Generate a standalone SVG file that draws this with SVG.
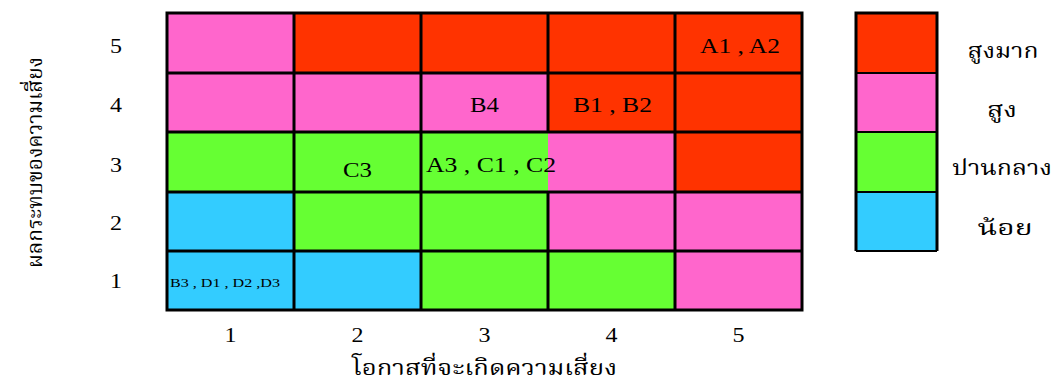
<svg xmlns="http://www.w3.org/2000/svg" width="1055" height="389" viewBox="0 0 1055 389">
<style>
.r{fill:#FF3300}.p{fill:#FF66CC}.g{fill:#66FF33}.c{fill:#33CCFF}
.t{font-family:"Liberation Serif",serif;fill:#000}
.th{font-family:"Noto Serif Thai","Noto Sans Thai","Loma","Garuda","Liberation Serif",serif;fill:#000;font-weight:normal}
.ln{stroke:#000;stroke-width:3;fill:none}
.ln2{stroke:#000;stroke-width:2;fill:none}
</style>
<rect width="1055" height="389" fill="#fff"/>
<g id="matrix">
<g id="cell-5-1"><rect class="p" x="167" y="13" width="127" height="60"/></g>
<g id="cell-5-2"><rect class="r" x="294" y="13" width="127" height="60"/></g>
<g id="cell-5-3"><rect class="r" x="421" y="13" width="127" height="60"/></g>
<g id="cell-5-4"><rect class="r" x="548" y="13" width="127" height="60"/></g>
<g id="cell-5-5"><rect class="r" x="675" y="13" width="127" height="60"/><text class="t" x="740" y="53" font-size="21" text-anchor="middle" textLength="80" lengthAdjust="spacingAndGlyphs">A1 , A2</text></g>
<g id="cell-4-1"><rect class="p" x="167" y="73" width="127" height="59"/></g>
<g id="cell-4-2"><rect class="p" x="294" y="73" width="127" height="59"/></g>
<g id="cell-4-3"><rect class="p" x="421" y="73" width="127" height="59"/><text class="t" x="484.5" y="112" font-size="21" text-anchor="middle" textLength="29" lengthAdjust="spacingAndGlyphs">B4</text></g>
<g id="cell-4-4"><rect class="r" x="548" y="73" width="127" height="59"/><text class="t" x="612.5" y="112" font-size="21" text-anchor="middle" textLength="79" lengthAdjust="spacingAndGlyphs">B1 , B2</text></g>
<g id="cell-4-5"><rect class="r" x="675" y="73" width="127" height="59"/></g>
<g id="cell-3-1"><rect class="g" x="167" y="132" width="127" height="60"/></g>
<g id="cell-3-2"><rect class="g" x="294" y="132" width="127" height="60"/><text class="t" x="357.5" y="177" font-size="21" text-anchor="middle" textLength="29" lengthAdjust="spacingAndGlyphs">C3</text></g>
<g id="cell-3-3"><rect class="g" x="421" y="132" width="127" height="60"/></g>
<g id="cell-3-4"><rect class="p" x="548" y="132" width="127" height="60"/></g>
<g id="cell-3-5"><rect class="r" x="675" y="132" width="127" height="60"/></g>
<g id="cell-2-1"><rect class="c" x="167" y="192" width="127" height="59"/></g>
<g id="cell-2-2"><rect class="g" x="294" y="192" width="127" height="59"/></g>
<g id="cell-2-3"><rect class="g" x="421" y="192" width="127" height="59"/></g>
<g id="cell-2-4"><rect class="p" x="548" y="192" width="127" height="59"/></g>
<g id="cell-2-5"><rect class="p" x="675" y="192" width="127" height="59"/></g>
<g id="cell-1-1"><rect class="c" x="167" y="251" width="127" height="59"/><text class="t" x="170" y="287" font-size="13.5" textLength="110" lengthAdjust="spacingAndGlyphs">B3 , D1 , D2 ,D3</text></g>
<g id="cell-1-2"><rect class="c" x="294" y="251" width="127" height="59"/></g>
<g id="cell-1-3"><rect class="g" x="421" y="251" width="127" height="59"/></g>
<g id="cell-1-4"><rect class="g" x="548" y="251" width="127" height="59"/></g>
<g id="cell-1-5"><rect class="p" x="675" y="251" width="127" height="59"/></g>
<g id="gridlines">
<rect class="ln" x="167" y="13" width="635" height="297"/>
<path class="ln" d="M167 73H802M167 132H802M167 192H802M167 251H802M294 13V310M421 13V310M675 13V310M548 13V132M548 192V310"/>
</g>
<text class="t" x="426" y="172" font-size="21" textLength="130" lengthAdjust="spacingAndGlyphs">A3 , C1 , C2</text>
</g>
<g id="y-axis">
<text class="t" x="116" y="53" font-size="20" text-anchor="middle" textLength="12" lengthAdjust="spacingAndGlyphs">5</text>
<text class="t" x="116" y="112" font-size="20" text-anchor="middle" textLength="12" lengthAdjust="spacingAndGlyphs">4</text>
<text class="t" x="116" y="172" font-size="20" text-anchor="middle" textLength="12" lengthAdjust="spacingAndGlyphs">3</text>
<text class="t" x="116" y="230" font-size="20" text-anchor="middle" textLength="12" lengthAdjust="spacingAndGlyphs">2</text>
<text class="t" x="116" y="288" font-size="20" text-anchor="middle" textLength="12" lengthAdjust="spacingAndGlyphs">1</text>
<text class="th" transform="translate(42,162.5) rotate(-90)" font-size="21" text-anchor="middle" textLength="211" lengthAdjust="spacingAndGlyphs">ผลกระทบของความเสี่ยง</text>
</g>
<g id="x-axis">
<text class="t" x="230.5" y="342" font-size="20" text-anchor="middle" textLength="12" lengthAdjust="spacingAndGlyphs">1</text>
<text class="t" x="357.5" y="342" font-size="20" text-anchor="middle" textLength="12" lengthAdjust="spacingAndGlyphs">2</text>
<text class="t" x="484.5" y="342" font-size="20" text-anchor="middle" textLength="12" lengthAdjust="spacingAndGlyphs">3</text>
<text class="t" x="611.5" y="342" font-size="20" text-anchor="middle" textLength="12" lengthAdjust="spacingAndGlyphs">4</text>
<text class="t" x="738.5" y="342" font-size="20" text-anchor="middle" textLength="12" lengthAdjust="spacingAndGlyphs">5</text>
<text class="th" x="484.5" y="375" font-size="21" text-anchor="middle" textLength="265" lengthAdjust="spacingAndGlyphs">โอกาสที่จะเกิดความเสี่ยง</text>
</g>
<g id="legend">
<g id="legend-very-high"><rect class="r" x="856" y="13" width="81" height="60"/><text class="th" x="1003" y="58" font-size="21" text-anchor="middle" textLength="71" lengthAdjust="spacingAndGlyphs">สูงมาก</text></g>
<g id="legend-high"><rect class="p" x="856" y="73" width="81" height="59"/><text class="th" x="1002" y="117" font-size="21" text-anchor="middle" textLength="30" lengthAdjust="spacingAndGlyphs">สูง</text></g>
<g id="legend-medium"><rect class="g" x="856" y="132" width="81" height="60"/><text class="th" x="1002" y="175" font-size="21" text-anchor="middle" textLength="100" lengthAdjust="spacingAndGlyphs">ปานกลาง</text></g>
<g id="legend-low"><rect class="c" x="856" y="192" width="81" height="59"/><text class="th" x="1005" y="235" font-size="21" text-anchor="middle" textLength="55" lengthAdjust="spacingAndGlyphs">น้อย</text></g>
<path class="ln" d="M856 13V251M937 13V251M854.5 13H938.5"/>
<path class="ln2" d="M856 73H937M856 132H937M856 192H937M856 251H937"/>
</g>
</svg>
